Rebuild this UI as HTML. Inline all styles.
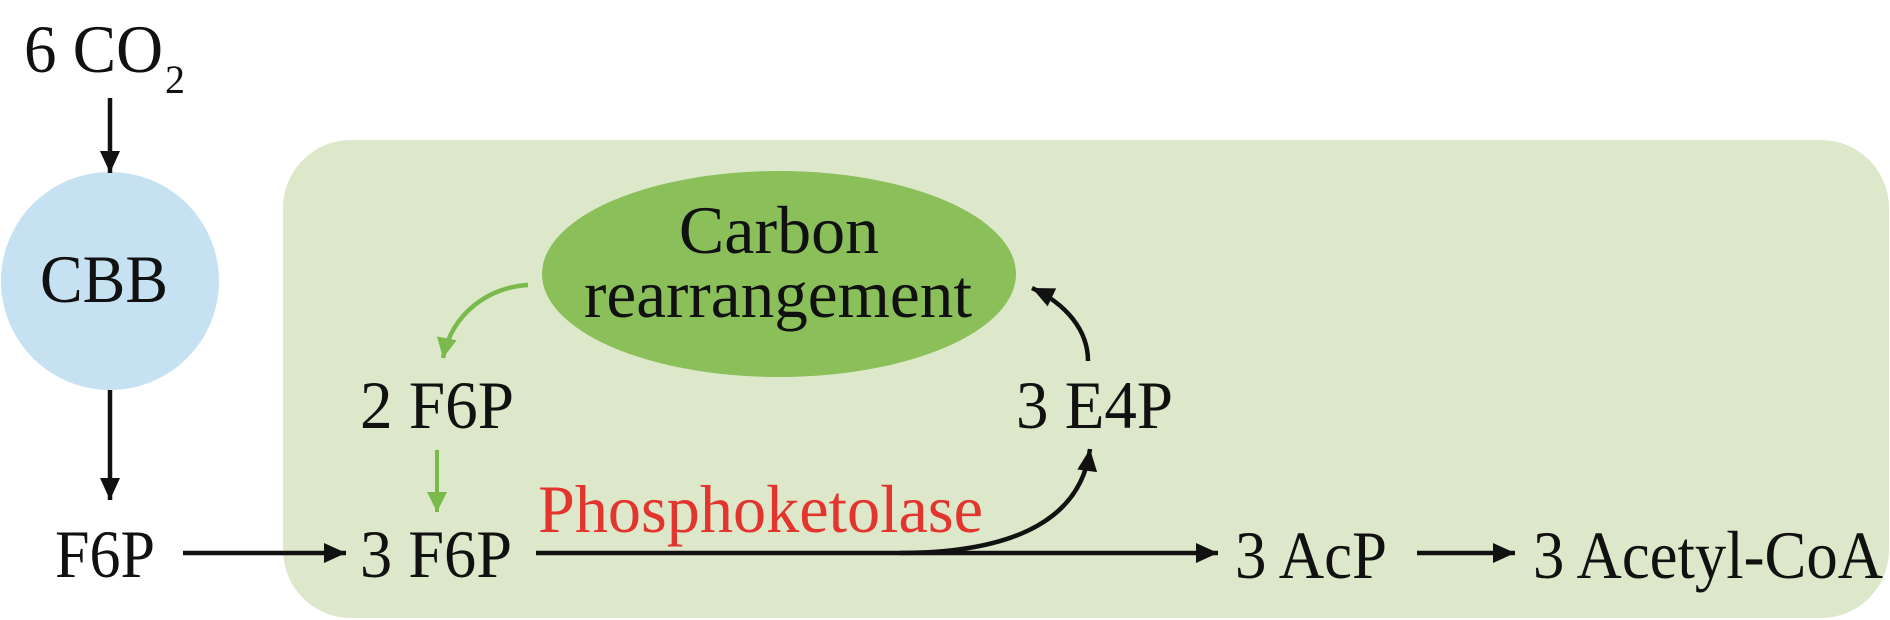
<!DOCTYPE html>
<html>
<head>
<meta charset="utf-8">
<style>
  html,body{margin:0;padding:0;background:#fff;}
  svg{display:block;}
  text{font-family:"Liberation Serif","Times New Roman",serif;fill:#111;}
</style>
</head>
<body>
<svg width="1890" height="620" viewBox="0 0 1890 620" xmlns="http://www.w3.org/2000/svg">
  <defs>
    <marker id="ah" markerUnits="userSpaceOnUse" markerWidth="30" markerHeight="30" refX="22" refY="10" orient="auto" overflow="visible">
      <path d="M0,0 L22,10 L0,20 z" fill="#111"/>
    </marker>
    <marker id="ahg" markerUnits="userSpaceOnUse" markerWidth="30" markerHeight="30" refX="20" refY="10" orient="auto" overflow="visible">
      <path d="M0,0 L20,10 L0,20 z" fill="#7aba4c"/>
    </marker>
  </defs>

  <!-- green background box -->
  <rect x="283" y="140" width="1606" height="478" rx="68" ry="68" fill="#dde8cb"/>

  <!-- CBB circle -->
  <ellipse cx="110" cy="281" rx="109" ry="109" fill="#c6e2f2"/>
  <text x="40" y="302" font-size="68" textLength="128" lengthAdjust="spacingAndGlyphs">CBB</text>

  <!-- Carbon rearrangement ellipse -->
  <ellipse cx="779" cy="274" rx="237" ry="103" fill="#8bbf5a"/>
  <text x="779" y="253" font-size="68" text-anchor="middle">Carbon</text>
  <text x="778" y="317" font-size="68" text-anchor="middle" textLength="388" lengthAdjust="spacingAndGlyphs">rearrangement</text>

  <!-- 6 CO2 -->
  <text x="24" y="72" font-size="68" textLength="139" lengthAdjust="spacingAndGlyphs">6 CO</text>
  <text x="165" y="93" font-size="40">2</text>

  <!-- labels -->
  <text x="55" y="577" font-size="68" textLength="100" lengthAdjust="spacingAndGlyphs">F6P</text>
  <text x="360" y="577" font-size="68" textLength="152" lengthAdjust="spacingAndGlyphs">3 F6P</text>
  <text x="360" y="428" font-size="68" textLength="154" lengthAdjust="spacingAndGlyphs">2 F6P</text>
  <text x="1016" y="428" font-size="68" textLength="157" lengthAdjust="spacingAndGlyphs">3 E4P</text>
  <text x="538" y="532" font-size="68" textLength="445" lengthAdjust="spacingAndGlyphs" style="fill:#e2352d">Phosphoketolase</text>
  <text x="1235" y="578" font-size="68" textLength="152" lengthAdjust="spacingAndGlyphs">3 AcP</text>
  <text x="1533" y="578" font-size="68" textLength="350" lengthAdjust="spacingAndGlyphs">3 Acetyl-CoA</text>

  <!-- black straight arrows -->
  <line x1="110" y1="98" x2="110" y2="173" stroke="#111" stroke-width="4.5" marker-end="url(#ah)"/>
  <line x1="110" y1="390" x2="110" y2="500" stroke="#111" stroke-width="4.5" marker-end="url(#ah)"/>
  <line x1="183" y1="553" x2="346" y2="553" stroke="#111" stroke-width="4.5" marker-end="url(#ah)"/>
  <line x1="536" y1="553" x2="1218" y2="553" stroke="#111" stroke-width="4.5" marker-end="url(#ah)"/>
  <line x1="1417" y1="553" x2="1515" y2="553" stroke="#111" stroke-width="4.5" marker-end="url(#ah)"/>

  <!-- black curved arrows -->
  <path d="M 900 553 C 1000 553 1080 527 1090 449" fill="none" stroke="#111" stroke-width="4.5" marker-end="url(#ah)"/>
  <path d="M 1088 361 C 1088 330 1066 304 1032 288" fill="none" stroke="#111" stroke-width="4.5" marker-end="url(#ah)"/>

  <!-- green arrows -->
  <line x1="437" y1="450" x2="437" y2="512" stroke="#7aba4c" stroke-width="4" marker-end="url(#ahg)"/>
  <path d="M 528 285 C 490 287 452 312 443 358" fill="none" stroke="#7aba4c" stroke-width="4.5" marker-end="url(#ahg)"/>
</svg>
</body>
</html>
